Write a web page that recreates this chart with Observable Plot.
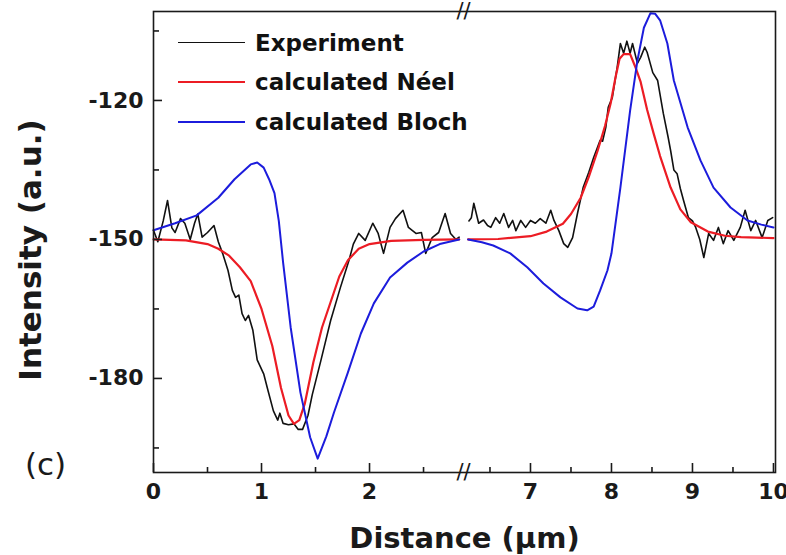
<!DOCTYPE html>
<html><head><meta charset="utf-8">
<script src="https://cdn.jsdelivr.net/npm/d3@7"></script>
<script src="https://cdn.jsdelivr.net/npm/@observablehq/plot@0.6"></script>
<style>
body{margin:0;background:#fff;}
#wrap{position:relative;width:786px;height:555px;overflow:hidden;}
.legend{position:absolute;left:178px;top:23px;font-family:"DejaVu Sans";font-weight:bold;font-size:23px;color:#111;}
.row{display:flex;align-items:center;height:39.5px;white-space:nowrap;}
.sw{width:67px;height:0;margin-right:10px;}
</style></head><body><div id="wrap"></div>
<script>
// Distance (µm), Intensity (a.u.) — left part (before axis break)
const experimentLeft = [[0,-148],[0.04,-150.5],[0.09,-146],[0.13,-141.6],[0.17,-147.5],[0.2,-148.5],[0.25,-145.5],[0.29,-146.5],[0.34,-150],[0.38,-146.5],[0.41,-144.5],[0.45,-149.5],[0.5,-148.5],[0.56,-147],[0.6,-150.5],[0.64,-153],[0.69,-156.7],[0.73,-161],[0.76,-162.5],[0.79,-162],[0.82,-166],[0.85,-167.5],[0.88,-166.4],[0.92,-169.6],[0.96,-176],[1.02,-179],[1.06,-182.6],[1.11,-187],[1.15,-189],[1.17,-187.5],[1.2,-189.7],[1.25,-190],[1.3,-189.8],[1.34,-191],[1.38,-191],[1.43,-188],[1.47,-183.5],[1.55,-176.1],[1.64,-167.5],[1.73,-160.4],[1.81,-154.5],[1.85,-151],[1.9,-148.7],[1.96,-150.2],[2.03,-146.5],[2.08,-148.7],[2.13,-153],[2.19,-147.4],[2.24,-145.5],[2.31,-143.7],[2.36,-147.4],[2.43,-148.7],[2.48,-148.5],[2.52,-153],[2.58,-149.6],[2.64,-148.5],[2.7,-144.4],[2.75,-148.7],[2.8,-150],[2.83,-149.5]];
const neelLeft = [[0,-150],[0.3,-150.2],[0.5,-151],[0.6,-152],[0.7,-153.5],[0.8,-156],[0.9,-159],[1.0,-165],[1.1,-173],[1.18,-182],[1.25,-188],[1.3,-189.8],[1.35,-189],[1.4,-185.5],[1.48,-176.5],[1.56,-169],[1.64,-163.5],[1.72,-158],[1.8,-154.5],[1.9,-152],[2.0,-151],[2.2,-150.3],[2.5,-150.1],[2.83,-150]];
const blochLeft = [[0,-148],[0.2,-146.5],[0.4,-144.8],[0.6,-141],[0.75,-137],[0.9,-133.8],[0.96,-133.4],[1.02,-134.5],[1.07,-137],[1.12,-140],[1.16,-146],[1.2,-155],[1.27,-169],[1.36,-183],[1.45,-192.7],[1.52,-197.3],[1.6,-192.5],[1.67,-187.4],[1.8,-178.7],[1.92,-170.3],[2.04,-163.8],[2.19,-158.2],[2.35,-155],[2.5,-152.6],[2.65,-151],[2.83,-150]];
// right part (after axis break)
const experimentRight = [[6.24,-146],[6.27,-145.3],[6.3,-142.2],[6.36,-146.5],[6.42,-145.8],[6.47,-147],[6.51,-147.4],[6.57,-145.3],[6.62,-146.5],[6.67,-144.4],[6.73,-147.4],[6.78,-145.9],[6.82,-148.1],[6.88,-145.9],[6.94,-147.4],[7.0,-145.9],[7.06,-146.5],[7.12,-145.5],[7.19,-146.5],[7.25,-143.7],[7.29,-145.9],[7.35,-148.1],[7.41,-150.9],[7.46,-151.7],[7.52,-149.6],[7.58,-144.4],[7.65,-138.8],[7.72,-135.5],[7.78,-132.3],[7.86,-128.6],[7.89,-128.8],[7.93,-125.8],[7.96,-121.5],[8.01,-119.4],[8.07,-112.9],[8.11,-107.7],[8.15,-109.8],[8.19,-107.2],[8.23,-109.8],[8.26,-107.7],[8.32,-112],[8.36,-110.7],[8.41,-108.5],[8.44,-109.6],[8.51,-114],[8.57,-115.7],[8.64,-122.8],[8.7,-128],[8.73,-130.8],[8.77,-135],[8.81,-135.8],[8.85,-139],[8.89,-141.6],[8.95,-145.3],[9.0,-146],[9.04,-147.4],[9.09,-150],[9.14,-153.9],[9.2,-148.7],[9.26,-150.2],[9.32,-147.4],[9.38,-150.9],[9.44,-148.1],[9.51,-150.2],[9.59,-147.4],[9.65,-143.7],[9.72,-148.1],[9.78,-145.9],[9.86,-149.6],[9.93,-145.9],[9.99,-145.3]];
const neelRight = [[6.23,-150],[6.6,-149.9],[7.0,-149.3],[7.2,-148.3],[7.4,-146.6],[7.5,-144.5],[7.62,-141],[7.72,-136.5],[7.83,-130.8],[7.92,-125.5],[7.99,-120.6],[8.05,-115],[8.1,-111],[8.15,-110],[8.23,-110],[8.3,-113],[8.36,-116],[8.44,-122],[8.52,-127.1],[8.6,-132],[8.73,-138.8],[8.85,-143.5],[8.98,-146.3],[9.19,-148.3],[9.4,-149.2],[9.6,-149.5],[10.0,-149.7]];
const blochRight = [[6.23,-150],[6.4,-150.6],[6.54,-151.3],[6.75,-153],[6.96,-156],[7.16,-159.5],[7.37,-162.5],[7.58,-164.9],[7.7,-165.3],[7.78,-164.5],[7.86,-161],[7.95,-156.7],[8.0,-153],[8.11,-138.8],[8.23,-122.2],[8.32,-111.4],[8.4,-104.3],[8.48,-101.2],[8.54,-101.3],[8.6,-102.7],[8.69,-107.7],[8.77,-115.7],[8.94,-125.8],[9.1,-133],[9.26,-138.8],[9.47,-143.1],[9.68,-145.9],[9.85,-146.8],[10.0,-147.4]];

const xMajorTicks = [0, 1, 2, 7, 8, 9, 10];
const xMinorTicks = [0.5, 1.5, 2.5, 6.5, 7.5, 8.5, 9.5];
const yMajorTicks = [-120, -150, -180];
const yMinorTicks = [-105, -135, -165, -195];
const xBreakDomain = [0, 2.87, 6.173, 10.025];
const xBreakAt = [2.87];
const seriesNames = ["Experiment", "calculated Néel", "calculated Bloch"];
const seriesColors = ["#111111", "#ec1c24", "#1c1cdc"];

const W = 786, H = 555, mL = 153, mR = 11, mT = 11, mB = 83;
const pw = W - mL - mR, ph = H - mT - mB;
const ink = "#1a1a1a";
const fx = d => d[0], fy = d => d[1];

const chart = Plot.plot({
  width: W, height: H,
  marginLeft: mL, marginRight: mR, marginTop: mT, marginBottom: mB,
  style: {fontFamily: "DejaVu Sans", background: "white", color: ink, overflow: "visible"},
  x: {type: "linear", domain: xBreakDomain, range: [mL, 463, 463, W - mR], axis: null},
  y: {domain: [-200.3, -100.8], axis: null},
  marks: [
    Plot.line(experimentLeft, {x: fx, y: fy, stroke: seriesColors[0], strokeWidth: 1.6}),
    Plot.line(experimentRight, {x: fx, y: fy, stroke: seriesColors[0], strokeWidth: 1.6}),
    Plot.line(neelLeft, {x: fx, y: fy, stroke: seriesColors[1], strokeWidth: 2.2}),
    Plot.line(neelRight, {x: fx, y: fy, stroke: seriesColors[1], strokeWidth: 2.2}),
    Plot.line(blochLeft, {x: fx, y: fy, stroke: seriesColors[2], strokeWidth: 2}),
    Plot.line(blochRight, {x: fx, y: fy, stroke: seriesColors[2], strokeWidth: 2}),
    Plot.frame({stroke: ink, strokeWidth: 1.6}),
    // inward ticks
    Plot.ruleX(xMajorTicks, {x: d => d, insetTop: ph - 9, stroke: ink, strokeWidth: 1.6}),
    Plot.ruleX(xMinorTicks, {x: d => d, insetTop: ph - 5, stroke: ink, strokeWidth: 1.6}),
    Plot.ruleY(yMajorTicks, {y: d => d, insetRight: pw - 9, stroke: ink, strokeWidth: 1.6}),
    Plot.ruleY(yMinorTicks, {y: d => d, insetRight: pw - 6, stroke: ink, strokeWidth: 1.6}),
    // tick labels
    Plot.axisX(xMajorTicks, {tickSize: 0, tickPadding: 11, fontSize: 22, fontWeight: "bold", tickFormat: d => String(d), fill: ink}),
    Plot.axisY(yMajorTicks, {tickSize: 0, tickPadding: 10, fontSize: 22, fontWeight: "bold", tickFormat: d => String(d).replace("−", "-"), fill: ink, label: null}),
    // axis break marks
    Plot.text(xBreakAt, {x: d => d, frameAnchor: "top", text: () => "//", fontSize: 21, fill: ink, lineAnchor: "middle", textAnchor: "middle"}),
    Plot.text(xBreakAt, {x: d => d, frameAnchor: "bottom", text: () => "//", fontSize: 21, fill: ink, lineAnchor: "middle", textAnchor: "middle"}),
    // axis titles
    Plot.text(["Distance (μm)"], {frameAnchor: "bottom", dy: 66, fontSize: 29, fontWeight: "bold", fill: ink, lineAnchor: "middle", textAnchor: "middle"}),
    Plot.text(["Intensity (a.u.)"], {frameAnchor: "left", dx: -122, dy: 8, rotate: -90, fontSize: 31, fontWeight: "bold", fill: ink, lineAnchor: "middle", textAnchor: "middle"}),
    Plot.text(["(c)"], {frameAnchor: "bottom-left", dx: -108, dy: -7, fontSize: 31, fill: ink, lineAnchor: "middle", textAnchor: "middle"})
  ]
});

const wrap = document.getElementById("wrap");
wrap.appendChild(chart);
const legend = document.createElement("div");
legend.className = "legend";
seriesNames.forEach((name, i) => {
  const row = document.createElement("div");
  row.className = "row";
  const sw = document.createElement("span");
  sw.className = "sw";
  sw.style.borderTop = `${i === 0 ? 1.6 : 2.2}px solid ${seriesColors[i]}`;
  const label = document.createElement("span");
  label.textContent = name;
  row.appendChild(sw); row.appendChild(label);
  legend.appendChild(row);
});
wrap.appendChild(legend);
</script></body></html>
